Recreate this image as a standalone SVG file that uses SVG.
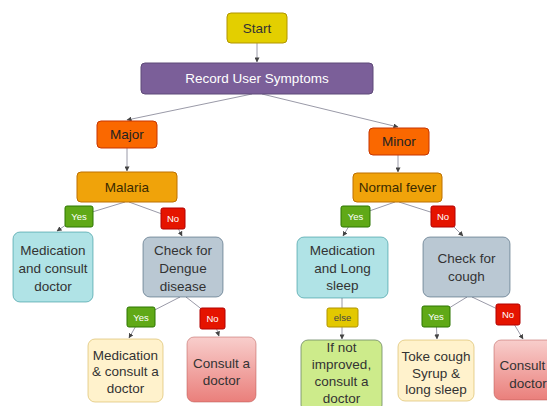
<svg xmlns="http://www.w3.org/2000/svg" width="547" height="406" viewBox="0 0 547 406">
<defs>
<marker id="arr" viewBox="0 0 6 6" refX="5.5" refY="3" markerWidth="5" markerHeight="5" orient="auto" markerUnits="userSpaceOnUse">
<path d="M0,0 L6,3 L0,6 Z" fill="#444"/>
</marker>
<linearGradient id="redg" x1="0" y1="0" x2="0" y2="1">
<stop offset="0" stop-color="#f8cecc"/>
<stop offset="1" stop-color="#ea7f7b"/>
</linearGradient>
</defs>
<style>
text{font-family:"Liberation Sans",Arial,sans-serif;text-anchor:middle}
.t{font-size:13.5px;fill:#333}
.s{font-size:9.5px;fill:#fff}
.e{fill:none;stroke:#9a9aa8;stroke-width:1}
.a{marker-end:url(#arr)}
.yes{fill:#60a917;stroke:#2d7600}
.no{fill:#e51400;stroke:#b20000}
</style>
<rect width="547" height="406" fill="#fff"/>
<g id="connectors">
<line class="e a" x1="257" y1="43" x2="257" y2="62"/>
<line class="e a" x1="252" y1="94" x2="127" y2="120"/>
<line class="e a" x1="262" y1="94" x2="398" y2="127"/>
<line class="e a" x1="127" y1="148" x2="127" y2="171"/>
<line class="e a" x1="398" y1="155" x2="398" y2="172"/>
<polyline class="e a" points="125,202 79,216 57,231"/>
<polyline class="e a" points="129,202 173,218 182,236"/>
<polyline class="e a" points="395,202 355,216 343,236"/>
<polyline class="e a" points="399,202 443,216 463,236"/>
<polyline class="e a" points="180,297 141,317 129,338"/>
<polyline class="e a" points="186,297 213,318 219,336"/>
<polyline class="e a" points="342,298 342,317 342,339"/>
<polyline class="e a" points="467,297 436,316 437,339"/>
<polyline class="e a" points="472,297 508,314 523,339"/>
</g>
<g id="start"><rect x="227" y="13" width="60" height="30" rx="4" fill="#e3cf00" stroke="#b09500"/><text class="t" x="257" y="33">Start</text></g>
<g id="record"><rect x="141" y="63" width="232" height="31" rx="4" fill="#7b5f99" stroke="#5f4a78"/><text class="t" x="257" y="83" style="fill:#fff">Record User Symptoms</text></g>
<g id="major"><rect x="97" y="121" width="60" height="27" rx="4" fill="#fa6800" stroke="#c73500"/><text class="t" x="127" y="139" style="fill:#222">Major</text></g>
<g id="minor"><rect x="369" y="128" width="60" height="27" rx="4" fill="#fa6800" stroke="#c73500"/><text class="t" x="399" y="146" style="fill:#222">Minor</text></g>
<g id="malaria"><rect x="77" y="172" width="100" height="30" rx="4" fill="#f0a30a" stroke="#bd7000"/><text class="t" x="127" y="192" style="fill:#3a2a00">Malaria</text></g>
<g id="normal"><rect x="353" y="173" width="89" height="29" rx="4" fill="#f0a30a" stroke="#bd7000"/><text class="t" x="397.5" y="192" style="fill:#3a2a00">Normal fever</text></g>
<g id="yes1"><rect class="yes" x="65" y="206" width="28" height="21" rx="2"/><text class="s" x="79" y="220">Yes</text></g>
<g id="no1"><rect class="no" x="161" y="208" width="24" height="21" rx="2"/><text class="s" x="173" y="222">No</text></g>
<g id="yes2"><rect class="yes" x="341" y="206" width="29" height="21" rx="2"/><text class="s" x="355.5" y="220">Yes</text></g>
<g id="no2"><rect class="no" x="431" y="206" width="24" height="21" rx="2"/><text class="s" x="443" y="220">No</text></g>
<g id="med1"><rect x="13" y="232" width="80" height="70" rx="7" fill="#b0e3e6" stroke="#0e8088" stroke-opacity="0.5"/><text class="t" x="53" y="255">Medication</text><text class="t" x="53" y="273">and consult</text><text class="t" x="53" y="291">doctor</text></g>
<g id="dengue"><rect x="143" y="237" width="80" height="60" rx="7" fill="#bac8d3" stroke="#23445d" stroke-opacity="0.5"/><text class="t" x="183" y="255">Check for</text><text class="t" x="183" y="273">Dengue</text><text class="t" x="183" y="291">disease</text></g>
<g id="medlong"><rect x="297" y="237" width="91" height="61" rx="7" fill="#b0e3e6" stroke="#0e8088" stroke-opacity="0.5"/><text class="t" x="342.5" y="255">Medication</text><text class="t" x="342.5" y="273">and Long</text><text class="t" x="342.5" y="290">sleep</text></g>
<g id="cough"><rect x="423" y="237" width="87" height="60" rx="7" fill="#bac8d3" stroke="#23445d" stroke-opacity="0.5"/><text class="t" x="466.5" y="263">Check for</text><text class="t" x="466.5" y="281">cough</text></g>
<g id="yes3"><rect class="yes" x="127" y="307" width="28" height="20" rx="2"/><text class="s" x="141" y="320.5">Yes</text></g>
<g id="no3"><rect class="no" x="200" y="308" width="25" height="21" rx="2"/><text class="s" x="212.5" y="322">No</text></g>
<g id="else"><rect x="327" y="308" width="31" height="19" rx="2" fill="#e3c800" stroke="#b09500"/><text class="s" x="342.5" y="321" style="fill:#444">else</text></g>
<g id="yes4"><rect class="yes" x="422" y="306" width="28" height="21" rx="2"/><text class="s" x="436" y="320">Yes</text></g>
<g id="no4"><rect class="no" x="496" y="304" width="24" height="21" rx="2"/><text class="s" x="508" y="318">No</text></g>
<g id="med2"><rect x="88" y="339" width="75" height="63" rx="7" fill="#fff2cc" stroke="#d6b656" stroke-opacity="0.6"/><text class="t" x="125.5" y="360">Medication</text><text class="t" x="125.5" y="376">&amp; consult a</text><text class="t" x="125.5" y="393">doctor</text></g>
<g id="consult1"><rect x="187" y="337" width="69" height="65" rx="7" fill="url(#redg)" stroke="#b85450" stroke-opacity="0.5"/><text class="t" x="221.5" y="368">Consult a</text><text class="t" x="221.5" y="385">doctor</text></g>
<g id="ifnot"><rect x="301" y="340" width="81" height="72" rx="7" fill="#cdeb8b" stroke="#6d8764" stroke-opacity="0.8"/><text class="t" x="341.5" y="352">If not</text><text class="t" x="341.5" y="369">improved,</text><text class="t" x="341.5" y="386">consult a</text><text class="t" x="341.5" y="403">doctor</text></g>
<g id="toke"><rect x="398" y="340" width="76" height="61" rx="7" fill="#fff2cc" stroke="#d6b656" stroke-opacity="0.6"/><text class="t" x="436" y="361">Toke cough</text><text class="t" x="436" y="378">Syrup &amp;</text><text class="t" x="436" y="394">long sleep</text></g>
<g id="consult2"><rect x="494" y="340" width="70" height="60" rx="7" fill="url(#redg)" stroke="#b85450" stroke-opacity="0.5"/><text class="t" x="528" y="370">Consult a</text><text class="t" x="528" y="388">doctor</text></g>
</svg>
